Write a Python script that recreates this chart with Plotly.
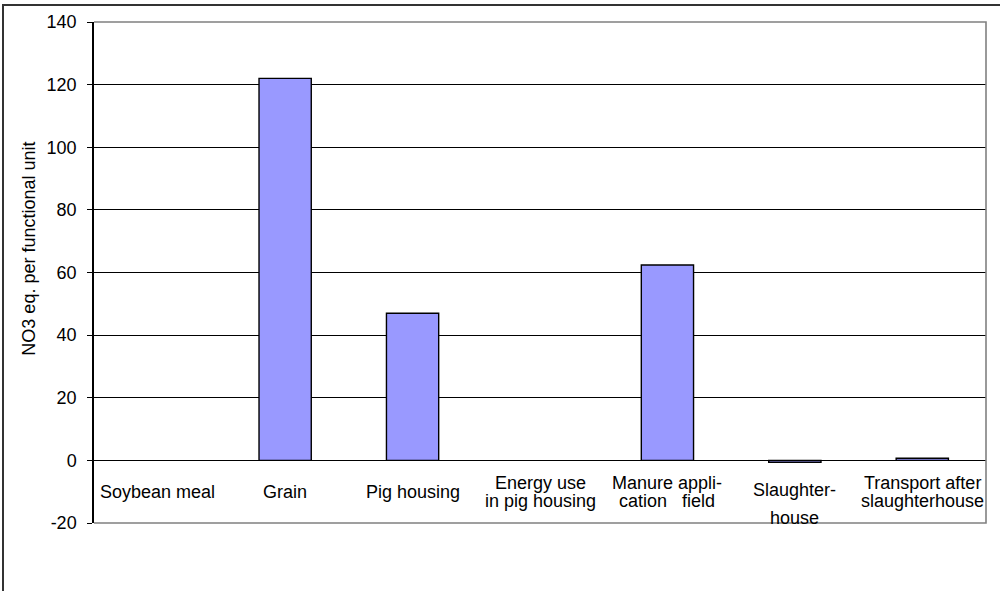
import plotly.graph_objects as go

# Process stages and their nitrate-equivalent contributions
categories = [
    "Soybean meal",
    "Grain",
    "Pig housing",
    "Energy use<br>in pig housing",
    "Manure appli-<br>cation\u00a0\u00a0 field",
    "Slaughter-<br>house",
    "Transport after<br>slaughterhouse",
]
values = [0.0, 122.0, 47.0, 0.0, 62.4, -0.6, 0.7]

y_ticks = [-20, 0, 20, 40, 60, 80, 100, 120, 140]
y_title = "NO3 eq. per functional unit"

FONT = "Liberation Sans, Arial, sans-serif"
W, H = 1000, 591
L, R, T, B = 94, 14, 19, 68
plot_w = W - L - R
plot_h = H - T - B

x_pos = list(range(len(categories)))

fig = go.Figure()
fig.add_trace(go.Bar(
    x=x_pos,
    y=values,
    marker=dict(
        color="#9999FF",
        # empty stages get no outline
        line=dict(color="#000000", width=[0 if v == 0 else 1.4 for v in values]),
    ),
    hoverinfo="skip",
))

# Category labels sit inside the plot, between the zero line and -20.
# Each wrapped line is placed separately to keep the tight line spacing.
line_shift = {
    1: [31],
    2: [40, 22],
}
special_shift = {5: [33, 5]}
for i, label in enumerate(categories):
    lines = label.split("<br>")
    shifts = special_shift.get(i, line_shift[len(lines)])
    for text, dy in zip(lines, shifts):
        fig.add_annotation(
            x=i, y=-20, xref="x", yref="y",
            text=text, showarrow=False,
            xanchor="center", yanchor="middle",
            yshift=dy,
            font=dict(family=FONT, size=18, color="#000000"),
        )

# Rotated axis title
fig.add_annotation(
    x=(29 - L) / plot_w, y=(H - B - 247) / plot_h,
    xref="paper", yref="paper",
    text=y_title, textangle=-90, showarrow=False,
    xanchor="center", yanchor="middle",
    font=dict(family=FONT, size=18, color="#000000"),
)

def px_x(px):
    return (px - L) / plot_w

def px_y(py):
    return (H - B - py) / plot_h

shapes = [
    # grey plot-area border (top, right, bottom)
    dict(type="path", xref="paper", yref="paper",
         path="M 0 1 L 1 1 L 1 0 L 0 0",
         line=dict(color="#808080", width=1.6), layer="above"),
    # outer chart frame (left and top edges)
    dict(type="line", xref="paper", yref="paper",
         x0=px_x(3), x1=px_x(3), y0=px_y(1), y1=px_y(H + 5),
         line=dict(color="#333333", width=2)),
    dict(type="line", xref="paper", yref="paper",
         x0=px_x(3), x1=px_x(W + 5), y0=px_y(2), y1=px_y(2),
         line=dict(color="#333333", width=2)),
]

fig.update_layout(
    width=W, height=H,
    margin=dict(l=L, r=R, t=T, b=B, pad=0),
    paper_bgcolor="#FFFFFF",
    plot_bgcolor="#FFFFFF",
    showlegend=False,
    bargap=0.59,
    shapes=shapes,
    font=dict(family=FONT, size=18, color="#000000"),
    xaxis=dict(
        range=[-0.5, len(categories) - 0.5],
        showticklabels=False, showgrid=False, zeroline=False,
        showline=False, ticks="", fixedrange=True,
    ),
    yaxis=dict(
        range=[-20, 140],
        tickvals=y_ticks,
        ticktext=[str(v) for v in y_ticks],
        showgrid=True, gridcolor="#000000", gridwidth=1,
        zeroline=True, zerolinecolor="#000000", zerolinewidth=1,
        showline=True, linecolor="#000000", linewidth=1.5,
        ticks="outside", ticklen=5, tickcolor="#000000", tickwidth=1,
        ticklabelstandoff=7,
        tickfont=dict(family=FONT, size=18, color="#000000"),
        fixedrange=True,
    ),
)

fig.write_html("out.html")
